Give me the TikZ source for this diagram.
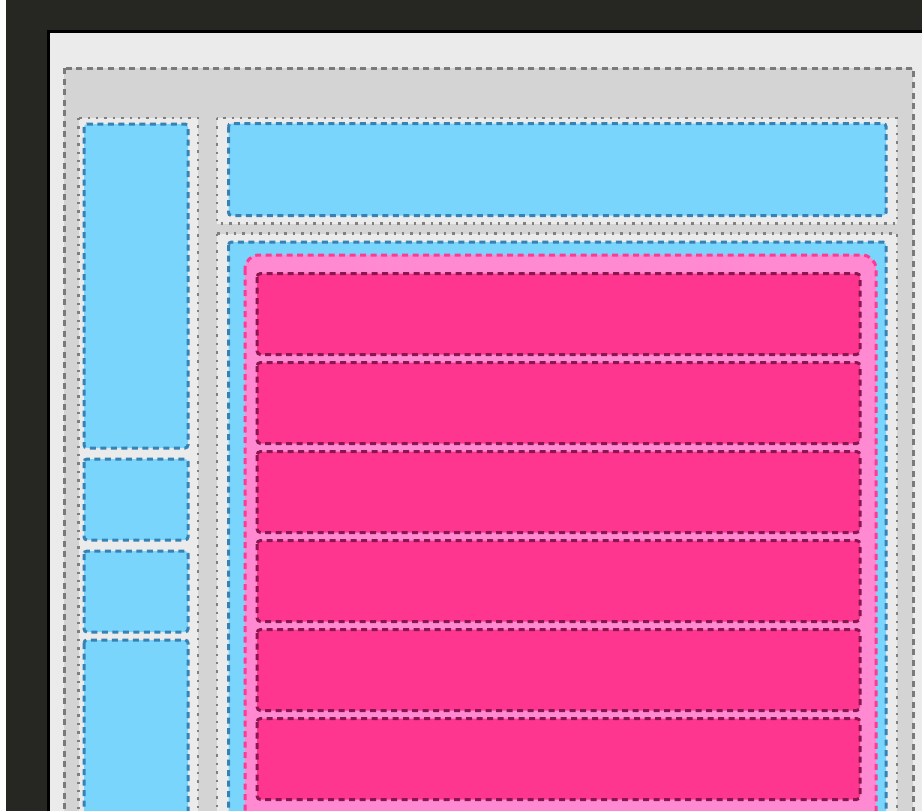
\documentclass[tikz,border=0pt]{standalone}
\definecolor{darkbg}{HTML}{262622}
\definecolor{panel}{HTML}{EBEBEB}
\definecolor{outerfill}{HTML}{D4D4D4}
\definecolor{graystroke}{HTML}{7A7A7A}
\definecolor{dotstroke}{HTML}{808080}
\definecolor{bluefill}{HTML}{7AD5FD}
\definecolor{bluestroke}{HTML}{3782B4}
\definecolor{pinkfill}{HTML}{FF8AD2}
\definecolor{pinkstroke}{HTML}{FF3A93}
\definecolor{rowfill}{HTML}{FF3690}
\definecolor{rowstroke}{HTML}{8A1650}
\tikzset{
  outerbox/.style={fill=outerfill, draw=graystroke, line width=3pt, dash pattern=on 6pt off 4.5pt},
  dotbox/.style={fill=panel, draw=dotstroke, line width=2.8pt, dash pattern=on 2.4pt off 6pt},
  bluebox/.style={fill=bluefill, draw=bluestroke, line width=3pt, dash pattern=on 6pt off 4.5pt, rounded corners=3pt},
  pinkbox/.style={fill=pinkfill, draw=pinkstroke, line width=3pt, dash pattern=on 6pt off 4.5pt, rounded corners=14pt},
  rowbox/.style={fill=rowfill, draw=rowstroke, line width=3pt, dash pattern=on 6pt off 4.5pt, rounded corners=3.5pt}
}
\begin{document}
\begin{tikzpicture}[x=1pt,y=-1pt]
\useasboundingbox (0,0) rectangle (922,811);
\clip (0,0) rectangle (922,811);
% backdrop
\fill[white] (0,0) rectangle (922,811);
\fill[darkbg] (6,0) rectangle (922,811);
\fill[black] (47,30) rectangle (930,830);
\fill[panel] (50,33) rectangle (930,830);
% outer container
\draw[outerbox] (64,68) rectangle (913,840);
% left column
\draw[dotbox] (78.5,118) rectangle (198,840);
\draw[bluebox] (84,124) rectangle (188,448);
\draw[bluebox] (84,459) rectangle (188,540);
\draw[bluebox] (84,551) rectangle (188,632);
\draw[bluebox] (84,640) rectangle (188,840);
% top right
\draw[dotbox] (217,118) rectangle (897,223.5);
\draw[bluebox] (228.5,123.5) rectangle (886,215.5);
% lower right
\draw[dotbox] (217,233.5) rectangle (897,840);
\draw[bluebox] (228.5,242) rectangle (886,840);
\draw[pinkbox] (245,255) rectangle (876,840);
\foreach \i in {0,...,5} {
  \draw[rowbox] (257,{273.5+89*\i}) rectangle (860,{354.5+89*\i});
}
\end{tikzpicture}
\end{document}
